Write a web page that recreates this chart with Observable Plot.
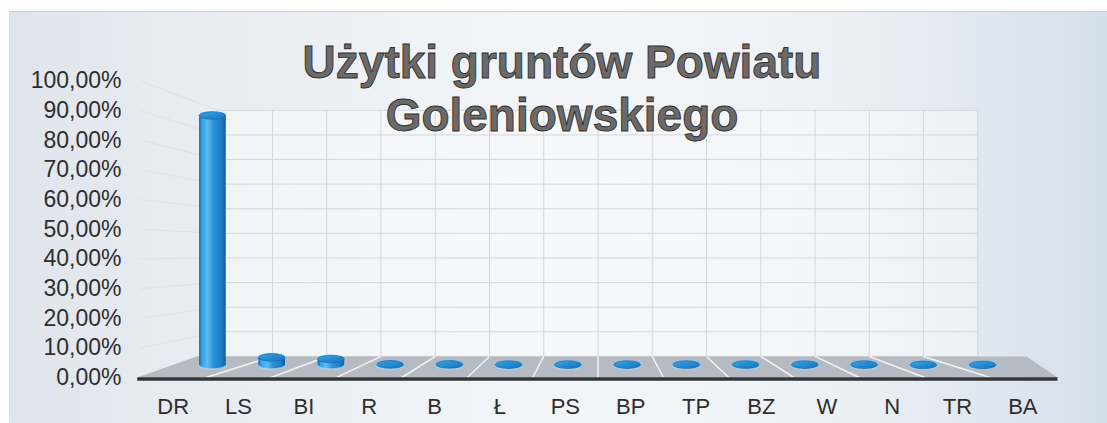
<!DOCTYPE html>
<html><head><meta charset="utf-8">
<script src="https://cdn.jsdelivr.net/npm/d3@7"></script>
<script src="https://cdn.jsdelivr.net/npm/@observablehq/plot@0.6"></script>
<style>
html,body{margin:0;padding:0;background:#fff;}
#wrap{position:relative;width:1107px;height:423px;overflow:hidden;background:#fdfdfd;}
#bg{position:absolute;left:9px;top:11px;right:0;bottom:0;background:linear-gradient(to right,#e0e5ed 0%,#eaeef4 22%,#f3f5f8 50%,#edf1f6 75%,#d5dfeb 100%);border-top:1px solid #cdd1d7;border-left:1px solid #dde1e6;}
#chart{position:absolute;left:0;top:0;}
#title{position:absolute;left:262px;width:600px;top:36px;text-align:center;font:bold 46px/53px "Liberation Sans",Arial,sans-serif;color:#6a6a6a;-webkit-text-stroke:0.9px #2f2f2f;text-shadow:1px 1px 0 #fff;white-space:nowrap;}
</style></head><body>
<div id="wrap"><div id="bg"></div><div id="chart"></div><div id="title">Użytki gruntów Powiatu<br>Goleniowskiego</div></div>
<script>
// ---- data ----
const categories = ["DR","LS","BI","R","B","Ł","PS","BP","TP","BZ","W","N","TR","BA"];
const shares = [0.93,0.03,0.024,0.004,0.004,0.003,0.003,0.003,0.003,0.003,0.003,0.003,0.002,0.002];
const yTicks = [0,0.1,0.2,0.3,0.4,0.5,0.6,0.7,0.8,0.9,1.0];

// ---- geometry / style ----
const W = 1107, H = 423, mL = 140, mR = 52, mT = 80.5, mB = 46;
const n = categories.length;
const pxY = (H - mT - mB); // pixels per unit of y
const VX = n / 2, VY = 0.418, K = 0.17; // perspective: vanishing point & depth shrink
function P(i, v, d) { const s = 1 - K * d; return {x: VX + (i - VX) * s, y: VY + (v - VY) * s}; }
const D = 0.55, HW = 0.225, RY = 3.8;
const ryd = RY / pxY;

const wall = [{x1: P(0,0,1).x, x2: P(n,0,1).x, y1: P(0,0,1).y, y2: P(0,1,1).y}];
const wallH = yTicks.map(v => ({x1: P(0,v,1).x, x2: P(n,v,1).x, y1: P(0,v,1).y, y2: P(0,v,1).y}));
const wallV = d3.range(n + 1).map(k => ({x1: P(k,0,1).x, x2: P(k,1,1).x, y1: P(k,0,1).y, y2: P(k,1,1).y}));
const sideL = yTicks.map(v => ({x1: P(0,v,0).x, x2: P(0,v,1).x, y1: P(0,v,0).y, y2: P(0,v,1).y}));
const floor = [P(-0.05,0,0), P(n+0.03,0,0), P(n+0.9,0,1), P(-0.4,0,1), P(-0.05,0,0)];
const floorL = d3.range(1, n).map(k => ({x1: P(k,0,0).x, x2: P(k,0,1).x, y1: P(k,0,0).y, y2: P(k,0,1).y}));

const cyl = categories.map((c, i) => {
  const cx = i + 0.5;
  const l = P(cx - HW, 0, D).x, r = P(cx + HW, 0, D).x;
  const base = P(cx, 0, D).y, top = P(cx, shares[i], D).y;
  return {c, l, r, base, top};
});

const fmt = d => (d * 100).toFixed(2).replace(".", ",") + "%";

const plot = Plot.plot({
  width: W, height: H,
  marginLeft: mL, marginRight: mR, marginTop: mT, marginBottom: mB,
  x: {domain: [0, n]},
  y: {domain: [0, 1]},
  style: {background: "transparent", color: "#2e2e2e", fontFamily: "'Liberation Sans', Arial, sans-serif"},
  marks: [
    Plot.rect(wall, {x1: "x1", x2: "x2", y1: "y1", y2: "y2", fill: "#fbfcfd", fillOpacity: 0.45}),
    Plot.link(wallH, {x1: "x1", x2: "x2", y1: "y1", y2: "y2", stroke: "#d3d7dd", strokeWidth: 1}),
    Plot.link(wallV, {x1: "x1", x2: "x2", y1: "y1", y2: "y2", stroke: "#d3d7dd", strokeWidth: 1}),
    Plot.link(sideL, {x1: "x1", x2: "x2", y1: "y1", y2: "y2", stroke: "#dde1e8", strokeWidth: 1}),
    Plot.line(floor, {x: "x", y: "y", fill: "#b6bac2", stroke: "none"}),
    Plot.link(floorL, {x1: "x1", x2: "x2", y1: "y1", y2: "y2", stroke: "#f2f3f5", strokeWidth: 1.5}),
    Plot.link([{x1: -0.05, x2: n + 0.03}], {x1: "x1", x2: "x2", y1: () => 0, y2: () => 0, stroke: "#333638", strokeWidth: 3.5, dy: 1.5}),
    // cylinder bottoms
    Plot.rect(cyl, {x1: "l", x2: "r", y1: d => d.base - ryd, y2: d => d.base + ryd, rx: 30, ry: RY, fill: "url(#cyl)", stroke: "#9fd2f2", strokeWidth: 2, strokeOpacity: 0.85}),
    // cylinder bodies
    Plot.rect(cyl, {x1: "l", x2: "r", y1: "base", y2: "top", fill: "url(#cyl)"}),
    // cylinder tops
    Plot.rect(cyl, {x1: "l", x2: "r", y1: d => d.top - ryd, y2: d => d.top + ryd, rx: 30, ry: RY, fill: "url(#cap)", stroke: "#186cae", strokeWidth: 0.7}),
    Plot.axisY({ticks: yTicks, tickFormat: fmt, tickSize: 0, tickPadding: 19, fontSize: 23, label: null}),
    Plot.axisX({ticks: categories.map((_, i) => i + 0.5), tickFormat: d => categories[Math.round(d - 0.5)], tickSize: 0, tickPadding: 21, fontSize: 22, label: null})
  ]
});

d3.select(plot).insert("defs", ":first-child").html(`
  <linearGradient id="cyl" x1="0" x2="1" y1="0" y2="0">
    <stop offset="0" stop-color="#1968ac"/>
    <stop offset="0.12" stop-color="#3aa4e8"/>
    <stop offset="0.32" stop-color="#5abcf0"/>
    <stop offset="0.55" stop-color="#2b92d8"/>
    <stop offset="0.85" stop-color="#1c7cc2"/>
    <stop offset="1" stop-color="#135a9a"/>
  </linearGradient>
  <linearGradient id="cap" x1="0" x2="1" y1="0" y2="1">
    <stop offset="0" stop-color="#3aa2e4"/>
    <stop offset="0.6" stop-color="#2188d0"/>
    <stop offset="1" stop-color="#1a74ba"/>
  </linearGradient>`);
document.getElementById("chart").appendChild(plot);
</script>
</body></html>
